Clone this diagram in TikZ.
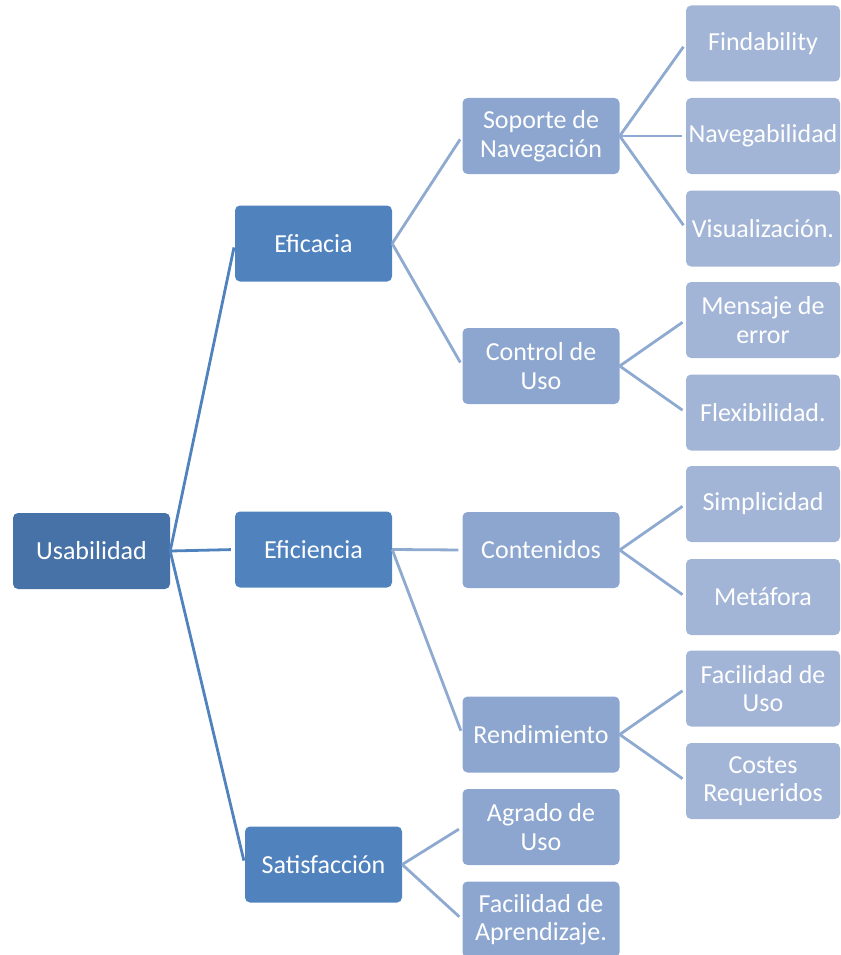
\documentclass[tikz,border=0pt]{standalone}
\usepackage{fontspec}
\setmainfont{Carlito}
\definecolor{rootblue}{HTML}{4672A8}
\definecolor{mainblue}{HTML}{5082BE}
\definecolor{midblue}{HTML}{8CA6CF}
\definecolor{leafblue}{HTML}{A2B5D7}
\definecolor{linkblue}{HTML}{8EAAD0}
\begin{document}
\begin{tikzpicture}[x=1pt,y=-1pt,
  box/.style={rectangle, rounded corners=5pt, minimum width=157pt, minimum height=76pt,
    inner sep=0pt, align=center, text=white, font=\fontsize{26}{28.5}\selectfont},
  rootbox/.style={box, fill=rootblue},
  mainbox/.style={box, fill=mainblue},
  midbox/.style={box, fill=midblue},
  leafbox/.style={box, fill=leafblue, minimum width=154pt},
  mainlink/.style={draw=mainblue, line width=2.8pt, shorten >=4pt},
  sublink/.style={draw=linkblue, line width=2.8pt, shorten >=4pt}]
\useasboundingbox (0,0) rectangle (840,955);

% root
\node[rootbox] (usab) at (91.5,551) {Usabilidad};

% first level
\node[mainbox] (efica) at (313.5,243.5) {Eficacia};
\node[mainbox] (efici) at (313.5,549.5) {Eficiencia};
\node[mainbox] (satis) at (323.5,864.5) {Satisfacción};

% second level
\node[midbox] (soporte) at (541,136) {Soporte de\\Navegación};
\node[midbox] (control) at (541,366) {Control de\\Uso};
\node[midbox] (conten) at (541,550) {Contenidos};
\node[midbox] (rendim) at (541,734.5) {Rendimiento};
\node[midbox] (agrado) at (541,827) {Agrado de\\Uso};
\node[midbox] (aprend) at (541,919.5) {Facilidad de\\Aprendizaje.};

% third level
\node[leafbox] (find) at (763,43.5) {Findability};
\node[leafbox] (naveg) at (763,136) {Navegabilidad};
\node[leafbox] (visual) at (763,228.5) {Visualización.};
\node[leafbox] (mensaje) at (763,320) {Mensaje de\\error};
\node[leafbox] (flexi) at (763,412.5) {Flexibilidad.};
\node[leafbox] (simpli) at (763,504) {Simplicidad};
\node[leafbox] (metaf) at (763,597) {Metáfora};
\node[leafbox] (facuso) at (763,688.5) {Facilidad de\\Uso};
\node[leafbox] (costes) at (763,781) {Costes\\Requeridos};

% connectors
\foreach \c in {efica,efici,satis}
  \draw[mainlink] (usab.east) -- (\c.west);
\foreach \p/\c in {efica/soporte, efica/control, efici/conten, efici/rendim,
                   satis/agrado, satis/aprend,
                   soporte/find, soporte/naveg, soporte/visual,
                   control/mensaje, control/flexi,
                   conten/simpli, conten/metaf,
                   rendim/facuso, rendim/costes}
  \draw[sublink] (\p.east) -- (\c.west);
\end{tikzpicture}
\end{document}
